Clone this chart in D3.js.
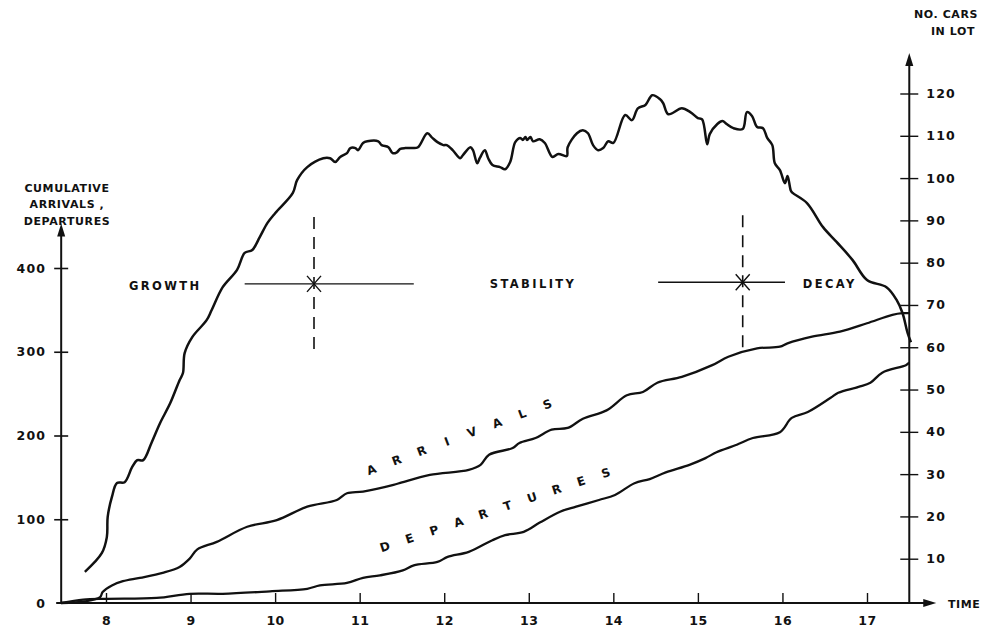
<!DOCTYPE html>
<html><head><meta charset="utf-8">
<script src="https://cdn.jsdelivr.net/npm/d3@7"></script>
<style>
body{margin:0;background:#fff;}
svg{display:block;}
text{font-family:"DejaVu Sans","Liberation Sans",sans-serif;font-weight:bold;fill:#111;}
</style></head>
<body><svg id="c" width="985" height="631"></svg>
<script>
// ---- data (time of day in hours) ----
const timeTicks = [8,9,10,11,12,13,14,15,16,17];
const cumTicks = [0,100,200,300,400];
const carTicks = [10,20,30,40,50,60,70,80,90,100,110,120];

// number of cars in lot (right scale)
const carsT = [7.75,7.95,8.01,8.02,8.07,8.13,8.22,8.31,8.37,8.44,8.54,8.64,8.76,8.87,8.91,8.93,9.02,9.19,9.25,9.38,9.55,9.64,9.73,9.82,9.91,10.00,10.21,10.26,10.38,10.57,
  10.65,10.71,10.77,10.85,10.89,10.95,10.98,11.04,11.09,11.22,11.26,11.34,11.39,11.44,11.48,11.54,11.63,11.69,11.80,11.86,11.92,11.99,12.03,12.10,12.19,12.22,12.31,12.34,12.39,12.42,12.48,12.52,12.57,12.66,12.72,12.78,12.84,12.90,12.93,12.96,12.98,13.02,13.05,13.13,13.19,13.28,13.35,13.45,13.46,13.57,13.64,13.70,13.76,13.82,13.88,13.94,14.00,14.14,14.22,14.29,14.38,14.46,14.55,14.59,14.65,14.81,14.91,15.00,15.05,15.11,15.14,15.23,15.29,15.34,15.42,15.53,15.58,15.64,15.70,15.77,15.82,15.88,15.91,
  15.97,16.03,16.06,16.10,16.12,16.29,16.48,16.64,16.83,17.00,17.23,17.35,17.42,17.48,17.52];
const carsV = [6.9,11.3,15.1,19.9,24.6,27.9,28.1,31.7,33.3,33.3,37.5,42.1,46.8,52.2,53.9,58.6,62.4,66.4,68.8,74.2,78.3,82.3,83.0,86.1,89.4,91.7,96.5,99.5,102.6,104.7,
  104.7,103.8,105.0,105.9,107.1,107.1,106.6,108.3,108.7,108.7,107.8,107.3,105.9,106.1,106.9,107.1,107.1,107.3,110.6,109.5,108.5,107.8,107.8,106.6,104.7,105.4,107.3,106.6,103.5,104.7,106.6,104.7,103.1,102.6,102.1,103.8,108.5,109.5,109.0,109.7,109.0,109.7,108.7,109.2,108.3,105.0,105.7,105.2,107.3,110.6,111.3,110.6,107.8,106.6,107.1,108.7,108.3,114.9,113.7,116.5,117.3,119.6,118.7,117.7,115.1,116.5,115.6,114.2,113.9,108.0,110.4,112.8,113.5,112.8,111.8,111.6,115.6,114.7,112.1,111.8,109.5,107.8,103.5,
  101.9,98.8,100.5,97.0,96.5,94.1,88.4,84.9,80.6,75.9,74.2,71.2,68.1,63.4,61.2];

// cumulative arrivals (left scale)
const arrT = [7.47,7.75,7.93,7.96,8.07,8.20,8.40,8.67,8.87,8.99,9.08,9.31,9.67,10.02,10.38,10.73,10.85,11.04,11.40,11.50,11.83,12.29,12.43,12.53,12.81,12.89,13.08,13.27,13.46,13.64,13.92,14.16,14.35,14.52,14.81,15.17,15.36,15.70,15.97,16.06,16.35,16.68,17.00,17.30,17.42,17.50];
const arrV = [0,2,7,13,21,26,30,36,43,53,64,73,91,99,115,123,131,133,141,144,153,159,165,177,185,191,197,207,209,220,230,248,252,263,270,284,294,304,306,310,318,324,334,344,346,346];

// cumulative departures (left scale)
const depT = [7.47,7.73,8.01,8.60,8.99,9.38,9.94,10.38,10.53,10.85,11.04,11.24,11.51,11.64,11.92,12.04,12.29,12.57,12.72,12.94,13.13,13.37,13.56,13.83,14.02,14.25,14.43,14.62,14.90,15.09,15.22,15.46,15.65,15.97,16.11,16.30,16.57,16.66,16.90,17.04,17.18,17.46,17.50];
const depV = [0,4,5,6,11,11,14,17,21,24,30,33,39,45,49,55,61,75,81,85,96,109,115,123,129,143,148,156,165,173,180,189,197,204,221,228,245,251,258,263,275,284,287];

// phase annotations: label, label time, boundary time, level (left scale)
const phaseLabels = ["GROWTH","STABILITY","DECAY"];
const phaseLabelT = [8.70,13.05,16.56];
const boundaryT = [10.46,15.53];
const boundaryLevel = [381,383];

// ---- scales ----
const svg = d3.select("#c");
const x = d3.scaleLinear().domain([8,17]).range([106,867]);
const yL = d3.scaleLinear().domain([0,400]).range([603,268]);
const yR = d3.scaleLinear().domain([0,120]).range([601,93.5]);

const tMin = 7.47, tMax = 17.5;
const x0 = x(tMin), x1 = x(tMax), yBase = yL(0);
const ink = "#111";

// ---- axes lines with arrowheads ----
const g = svg.append("g");
const topL = yL(440);
g.append("line").attr("x1",x0).attr("x2",x0).attr("y1",yBase+1).attr("y2",topL).attr("stroke",ink).attr("stroke-width",2);
g.append("path").attr("d",`M${x0-4},${topL+2} L${x0},${topL-11} L${x0+4},${topL+2} Z`).attr("fill",ink);
const topR = yR(127);
g.append("line").attr("x1",x1).attr("x2",x1).attr("y1",yBase+1).attr("y2",topR).attr("stroke",ink).attr("stroke-width",2);
g.append("path").attr("d",`M${x1-4},${topR+2} L${x1},${topR-11} L${x1+4},${topR+2} Z`).attr("fill",ink);
g.append("line").attr("x1",x0-5).attr("x2",x1+16).attr("y1",yBase).attr("y2",yBase).attr("stroke",ink).attr("stroke-width",2);
g.append("path").attr("d",`M${x1+14},${yBase-4} L${x1+27},${yBase} L${x1+14},${yBase+4} Z`).attr("fill",ink);

// left axis ticks
const la = svg.append("g").attr("transform",`translate(${x0},0)`)
  .call(d3.axisLeft(yL).tickValues(cumTicks).tickSize(7).tickPadding(8).tickFormat(d3.format("d")));
la.select(".domain").remove();
la.selectAll(".tick line").attr("x1",7).attr("x2",-7).attr("stroke",ink).attr("stroke-width",1.6)
  .filter(d=>d===0).remove();
la.selectAll(".tick text").attr("font-size",12.5).attr("letter-spacing",1.2).attr("font-family","DejaVu Sans").attr("font-weight","bold").attr("fill",ink);

// right axis ticks
const ra = svg.append("g").attr("transform",`translate(${x1},0)`)
  .call(d3.axisRight(yR).tickValues(carTicks).tickSize(9).tickPadding(8).tickFormat(d3.format("d")));
ra.select(".domain").remove();
ra.selectAll(".tick line").attr("x1",-9).attr("x2",9).attr("stroke",ink).attr("stroke-width",1.4);
ra.selectAll(".tick text").attr("font-size",12.5).attr("letter-spacing",1.2).attr("font-family","DejaVu Sans").attr("font-weight","bold").attr("fill",ink);

// bottom axis ticks (upward)
const ba = svg.append("g").attr("transform",`translate(0,${yBase})`)
  .call(d3.axisBottom(x).tickValues(timeTicks).tickSizeInner(-10).tickSizeOuter(0).tickPadding(13).tickFormat(d3.format("d")));
ba.select(".domain").remove();
ba.selectAll(".tick line").attr("stroke",ink).attr("stroke-width",1.4);
ba.selectAll(".tick text").attr("font-size",12.5).attr("letter-spacing",0.5).attr("font-family","DejaVu Sans").attr("font-weight","bold").attr("fill",ink);

// axis titles
const title = (txt,xx,yy,anchor="middle") => svg.append("text").attr("x",xx).attr("y",yy)
  .attr("text-anchor",anchor).attr("font-size",11).attr("letter-spacing",0.6).text(txt);
title("CUMULATIVE",67,192); title("ARRIVALS ,",67,208); title("DEPARTURES",67,225);
title("NO. CARS",946,18); title("IN LOT",953,35);
title("TIME",948,608,"start");

// ---- curves ----
const zip = (a,b)=>a.map((t,i)=>[t,b[i]]);
const lineL = d3.line().x(d=>x(d[0])).y(d=>yL(d[1])).curve(d3.curveCatmullRom.alpha(0.5));
const lineR = d3.line().x(d=>x(d[0])).y(d=>yR(d[1])).curve(d3.curveCatmullRom.alpha(0.5));
svg.append("path").datum(zip(arrT,arrV)).attr("d",lineL).attr("fill","none").attr("stroke",ink).attr("stroke-width",2.3).attr("stroke-linejoin","round");
svg.append("path").datum(zip(depT,depV)).attr("d",lineL).attr("fill","none").attr("stroke",ink).attr("stroke-width",2.3).attr("stroke-linejoin","round");
svg.append("path").datum(zip(carsT,carsV)).attr("d",lineR).attr("fill","none").attr("stroke",ink).attr("stroke-width",2.5).attr("stroke-linejoin","round");

// ---- phase annotations ----
phaseLabels.forEach((lab,i)=>{
  svg.append("text").attr("x",x(phaseLabelT[i])).attr("y",yL(boundaryLevel[Math.min(i,1)])+6)
    .attr("text-anchor","middle").attr("font-size",11.5).attr("letter-spacing",2.4).text(lab);
});
svg.append("line").attr("x1",x(9.64)).attr("x2",x(11.64)).attr("y1",yL(boundaryLevel[0])).attr("y2",yL(boundaryLevel[0])).attr("stroke",ink).attr("stroke-width",1.3);
svg.append("line").attr("x1",x(14.53)).attr("x2",x(16.03)).attr("y1",yL(boundaryLevel[1])).attr("y2",yL(boundaryLevel[1])).attr("stroke",ink).attr("stroke-width",1.3);
boundaryT.forEach((t,i)=>{
  const cx = x(t), cy = yL(boundaryLevel[i]);
  svg.append("line").attr("x1",cx).attr("x2",cx).attr("y1",cy-67).attr("y2",cy+71)
    .attr("stroke",ink).attr("stroke-width",1.6).attr("stroke-dasharray","12,8");
  svg.append("path").attr("d",`M${cx-7},${cy-8} L${cx+7},${cy+8} M${cx-7},${cy+8} L${cx+7},${cy-8}`)
    .attr("stroke",ink).attr("stroke-width",1.4);
});

// curve labels, letters spaced along the curves
function spaced(txt, xa, ya, xb, yb){
  const n = txt.length, ang = Math.atan2(yb-ya, xb-xa)*180/Math.PI;
  txt.split("").forEach((c,i)=>{
    const px = xa + (xb-xa)*i/(n-1), py = ya + (yb-ya)*i/(n-1);
    svg.append("text").attr("x",px).attr("y",py).attr("text-anchor","middle").attr("dominant-baseline","central")
      .attr("font-size",12).attr("transform",`rotate(${ang},${px},${py})`).text(c);
  });
}
spaced("ARRIVALS", x(11.14), yL(159), x(13.22), yL(237));
spaced("DEPARTURES", x(11.30), yL(67), x(13.91), yL(155));
</script></body></html>
